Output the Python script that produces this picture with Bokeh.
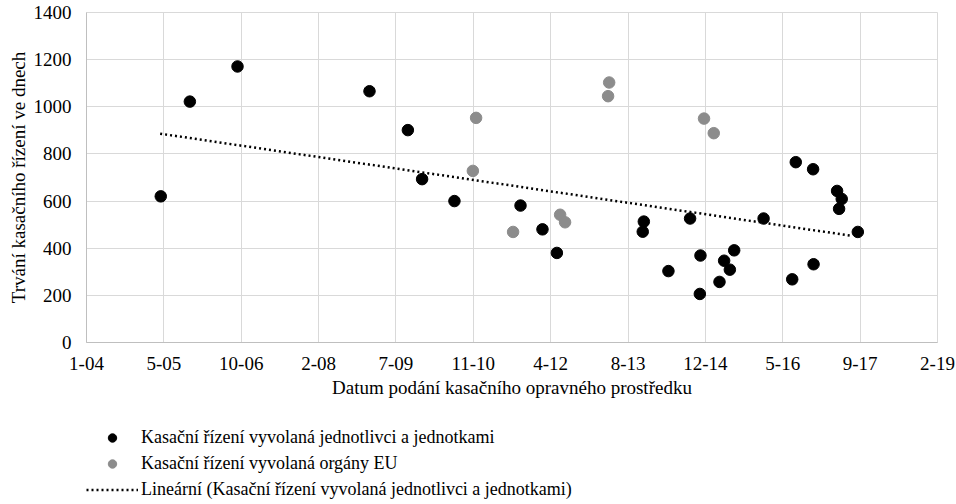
import numpy as np
import pandas as pd
from bokeh.plotting import figure
from bokeh.layouts import column
from bokeh.models import Range1d, FixedTicker, Legend, LegendItem
from bokeh.embed import file_html
from bokeh.resources import INLINE

# --- data ---
individual_dates = [
    "2005-05-09", "2005-11-13", "2006-09-17", "2009-01-17", "2009-09-22",
    "2009-12-23", "2010-07-20", "2011-09-20", "2012-02-09", "2012-05-12",
    "2013-11-25", "2013-11-18", "2014-05-03", "2014-09-20", "2014-11-26",
    "2014-11-22", "2015-03-29", "2015-04-28", "2015-06-04", "2015-07-02",
    "2016-01-08", "2016-07-11", "2016-08-03", "2016-11-26", "2016-11-23",
    "2017-04-27", "2017-05-27", "2017-05-10", "2017-09-08",
]
individual_days = [
    620, 1022, 1171, 1066, 901,
    693, 600, 581, 480, 380,
    513, 470, 303, 526, 369,
    206, 257, 347, 309, 391,
    526, 268, 765, 332, 735,
    643, 609, 567, 469,
]
eu_dates = [
    "2010-11-16", "2010-12-07", "2011-08-03", "2012-06-02", "2012-07-04",
    "2013-04-15", "2013-04-08", "2014-12-19", "2015-02-20",
]
eu_days = [728, 953, 469, 542, 510, 1103, 1045, 950, 888]

# linear trend of the individual series, as drawn in the reference
trend_dates = ["2005-05-05", "2017-08-05"]
trend_days = [886, 452]

x_tick_labels = ["1-04", "5-05", "10-06", "2-08", "7-09", "11-10",
                 "4-12", "8-13", "12-14", "5-16", "9-17", "2-19"]
axis_start = "2004-01-15"
tick_step_days = 500
y_ticks = [0, 200, 400, 600, 800, 1000, 1200, 1400]

label_individual = "Kasační řízení vyvolaná jednotlivci a jednotkami"
label_eu = "Kasační řízení vyvolaná orgány EU"
label_trend = "Lineární (Kasační řízení vyvolaná jednotlivci a jednotkami)"
x_title = "Datum podání kasačního opravného prostředku"
y_title = "Trvání kasačního řízení ve dnech"

# --- conversion to day offsets ---
t0 = pd.Timestamp(axis_start)


def to_days(dates):
    return np.array([(pd.Timestamp(d) - t0).days for d in dates], dtype=float)


x_ind = to_days(individual_dates)
x_eu = to_days(eu_dates)
x_tr = to_days(trend_dates)
tick_pos = [i * tick_step_days for i in range(len(x_tick_labels))]

FONT = "Liberation Serif"
FS = "19px"
GRID = "#d9d9d9"
BLACK = "#000000"
GREY = "#8c8c8c"
W = 956
H_MAIN = 410
H_LEG = 94

p = figure(width=W, height=H_MAIN, output_backend="svg", toolbar_location=None,
           x_range=Range1d(tick_pos[0], tick_pos[-1]),
           y_range=Range1d(y_ticks[0], y_ticks[-1]),
           min_border_left=86, min_border_right=19, min_border_top=12,
           min_border_bottom=H_MAIN - 342)

p.outline_line_color = GRID
p.background_fill_color = "white"
p.border_fill_color = "white"

for ax in (p.xaxis[0], p.yaxis[0]):
    ax.major_tick_line_color = None
    ax.minor_tick_line_color = None
    ax.major_tick_out = 0
    ax.major_tick_in = 0
    ax.minor_tick_out = 0
    ax.minor_tick_in = 0
    ax.axis_line_color = "#bfbfbf"
    ax.major_label_text_font = FONT
    ax.major_label_text_font_size = FS
    ax.major_label_text_color = BLACK
    ax.axis_label_text_font = FONT
    ax.axis_label_text_font_size = FS
    ax.axis_label_text_font_style = "normal"
    ax.axis_label_text_color = BLACK

p.xaxis.ticker = FixedTicker(ticks=tick_pos)
p.xaxis.major_label_overrides = {tp: lab for tp, lab in zip(tick_pos, x_tick_labels)}
p.xaxis.axis_label = x_title
p.xaxis.major_label_standoff = 14
p.xaxis.axis_label_standoff = 4

p.yaxis.ticker = FixedTicker(ticks=y_ticks)
p.yaxis.axis_label = y_title
p.yaxis.major_label_standoff = 15
p.yaxis.axis_label_standoff = 2

p.xgrid.ticker = FixedTicker(ticks=tick_pos)
p.ygrid.ticker = FixedTicker(ticks=y_ticks)
p.xgrid.grid_line_color = GRID
p.ygrid.grid_line_color = GRID

p.scatter(x_ind, individual_days, size=11.5, fill_color=BLACK, line_color=BLACK)
p.scatter(x_eu, eu_days, size=11.5, fill_color=GREY, line_color=GREY)
p.line(x_tr, trend_days, line_color=BLACK, line_width=2.5, line_dash="2 3")

# --- legend strip below the chart (same series, legend only) ---
q = figure(width=W, height=H_LEG, output_backend="svg", toolbar_location=None,
           x_range=Range1d(-2, -1), y_range=Range1d(-2, -1),
           x_axis_type=None, y_axis_type=None, min_border=0)
q.outline_line_color = None
q.xgrid.visible = False
q.ygrid.visible = False
q.background_fill_color = "white"
q.border_fill_color = "white"

l_ind = q.scatter(x_ind, individual_days, size=11.5, fill_color=BLACK, line_color=BLACK)
l_eu = q.scatter(x_eu, eu_days, size=11.5, fill_color=GREY, line_color=GREY)
l_tr = q.line(x_tr, trend_days, line_color=BLACK, line_width=2.5, line_dash="2 3")

legend = Legend(items=[
    LegendItem(label=label_individual, renderers=[l_ind]),
    LegendItem(label=label_eu, renderers=[l_eu]),
    LegendItem(label=label_trend, renderers=[l_tr]),
], location=(0, 2))
legend.padding = 0
legend.margin = 0
legend.spacing = 0
legend.glyph_width = 52
legend.glyph_height = 21
legend.label_height = 26
legend.label_standoff = 3
legend.label_text_font = FONT
legend.label_text_font_size = "18px"
legend.label_text_color = BLACK
legend.border_line_color = None
legend.background_fill_alpha = 0
q.add_layout(legend)

layout = column(p, q, spacing=0)
open("out.html", "w").write(file_html(layout, INLINE))
